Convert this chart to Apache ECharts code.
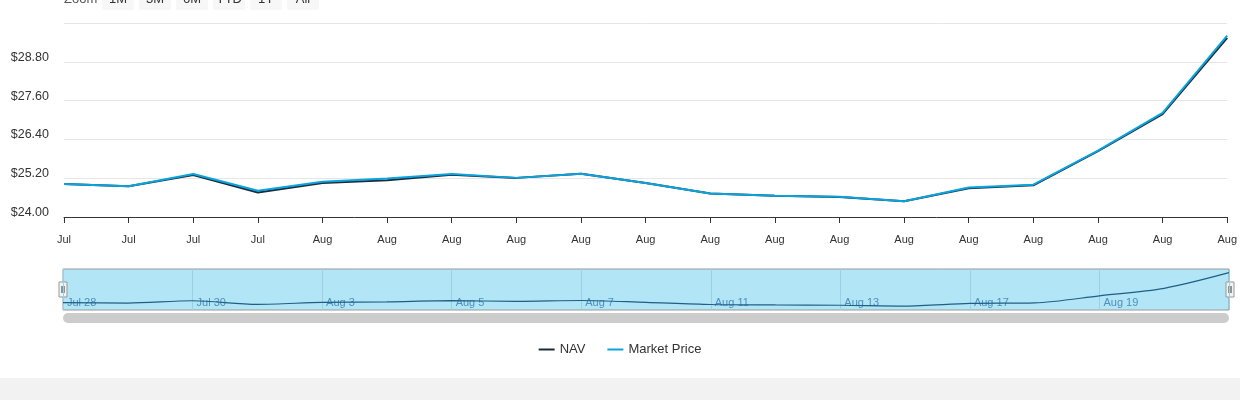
<!DOCTYPE html>
<html>
<head>
<meta charset="utf-8">
<script src="https://cdn.jsdelivr.net/npm/echarts@6/dist/echarts.min.js"></script>
<style>
html,body{margin:0;padding:0;background:#fff;}
#c{width:1240px;height:400px;}
</style>
</head>
<body>
<div id="c"></div>
<script>
var dates = ['Jul 28','Jul 29','Jul 30','Jul 31','Aug 3','Aug 4','Aug 5','Aug 6','Aug 7','Aug 10','Aug 11','Aug 12','Aug 13','Aug 14','Aug 17','Aug 18','Aug 19','Aug 20','Aug 21'];
var nav = [25.02,24.95,25.30,24.76,25.05,25.14,25.31,25.21,25.34,25.05,24.73,24.66,24.62,24.49,24.89,24.98,26.04,27.18,29.54];
var marketPrice = [25.02,24.95,25.33,24.81,25.09,25.19,25.33,25.21,25.34,25.05,24.73,24.66,24.63,24.49,24.91,25.00,26.05,27.22,29.61];
var yTicks = {min: 24, max: 30, interval: 1.2};
var zoomButtons = ['1M','3M','6M','YTD','1Y','All'];

var FONT = '"Liberation Sans", Arial, sans-serif';
var chart = echarts.init(document.getElementById('c'), null, {renderer: 'canvas'});

var graphics = [
  {type: 'rect', shape: {x: 0, y: 378, width: 1240, height: 22}, style: {fill: '#f2f2f2'}, silent: true},
  {type: 'text', x: 64, y: -1, style: {text: 'Zoom', font: '13px ' + FONT, fill: '#555', verticalAlign: 'middle'}}
];
var bx = 102;
zoomButtons.forEach(function (b) {
  graphics.push({type: 'rect', shape: {x: bx, y: -15, width: 32, height: 25, r: 2}, style: {fill: '#f7f7f7'}});
  graphics.push({type: 'text', x: bx + 16, y: -1, style: {text: b, font: '13px ' + FONT, fill: '#333', align: 'center', verticalAlign: 'middle'}});
  bx += 37;
});
// navigator handles
[[59, 282], [1226, 282]].forEach(function (p) {
  graphics.push({type: 'rect', shape: {x: p[0], y: p[1], width: 8, height: 15}, style: {fill: '#f2f2f2', stroke: '#999', lineWidth: 1}});
  graphics.push({type: 'line', shape: {x1: p[0] + 3, y1: p[1] + 4, x2: p[0] + 3, y2: p[1] + 11}, style: {stroke: '#333', lineWidth: 1}});
  graphics.push({type: 'line', shape: {x1: p[0] + 5, y1: p[1] + 4, x2: p[0] + 5, y2: p[1] + 11}, style: {stroke: '#333', lineWidth: 1}});
});
// scrollbar
graphics.push({type: 'rect', shape: {x: 63, y: 313, width: 1166, height: 10, r: 5}, style: {fill: '#cccccc'}, z: -1});

var option = {
  backgroundColor: '#fff',
  animation: false,
  textStyle: {fontFamily: FONT},
  legend: {
    top: 338, left: 'center',
    itemWidth: 16, itemHeight: 2, itemGap: 22,
    icon: 'rect',
    textStyle: {fontSize: 13, color: '#333', fontFamily: FONT},
    data: ['NAV', 'Market Price']
  },
  grid: [
    {left: 64, right: 10, top: 23, bottom: 183},
    {left: 63, right: 11, top: 269, bottom: 90, show: true, backgroundColor: '#b2e5f6', borderColor: '#999', borderWidth: 1}
  ],
  xAxis: [
    {
      type: 'category', gridIndex: 0, data: dates, boundaryGap: false,
      axisLine: {lineStyle: {color: '#333', width: 1}},
      axisTick: {show: true, length: 6, interval: 0, alignWithLabel: true, lineStyle: {color: '#333'}},
      axisLabel: {interval: 0, margin: 17, fontSize: 11, color: '#333', formatter: function (v) { return v.slice(0, 3); }},
      splitLine: {show: false}
    },
    {
      type: 'category', gridIndex: 1, data: dates, boundaryGap: false,
      axisLine: {show: false}, axisTick: {show: false},
      axisLabel: {inside: true, interval: 1, margin: 2, fontSize: 11, color: '#4f8fbd', align: 'left', padding: [0, 0, 0, 4], showMaxLabel: false},
      splitLine: {show: true, interval: 1, lineStyle: {color: '#9bd0e3', width: 1}}
    }
  ],
  yAxis: [
    {
      type: 'value', gridIndex: 0, min: yTicks.min, max: yTicks.max, interval: yTicks.interval,
      axisLine: {show: false}, axisTick: {show: false},
      axisLabel: {
        margin: 15, fontSize: 12.5, color: '#333', verticalAlign: 'bottom', lineHeight: 9,
        formatter: function (v) { return v >= 29.99 ? '' : '$' + v.toFixed(2); }
      },
      splitLine: {lineStyle: {color: '#e6e6e6', width: 1}}
    },
    {
      type: 'value', gridIndex: 1, min: 23.9, max: 30.1,
      show: false, splitLine: {show: false}
    }
  ],
  series: [
    {
      name: 'NAV', type: 'line', xAxisIndex: 0, yAxisIndex: 0, data: nav,
      showSymbol: false, symbol: 'none', color: '#1c2a39',
      lineStyle: {width: 2, color: '#1c2a39'}, z: 2
    },
    {
      name: 'Market Price', type: 'line', xAxisIndex: 0, yAxisIndex: 0, data: marketPrice,
      showSymbol: false, symbol: 'none', color: '#0aa3dd',
      lineStyle: {width: 2, color: '#0aa3dd'}, z: 3
    },
    {
      name: 'navigator', type: 'line', xAxisIndex: 1, yAxisIndex: 1, data: nav,
      showSymbol: false, symbol: 'none', smooth: 0.3,
      lineStyle: {width: 1.2, color: '#1f5f85'}, silent: true
    }
  ],
  graphic: graphics
};
chart.setOption(option);
</script>
</body>
</html>
